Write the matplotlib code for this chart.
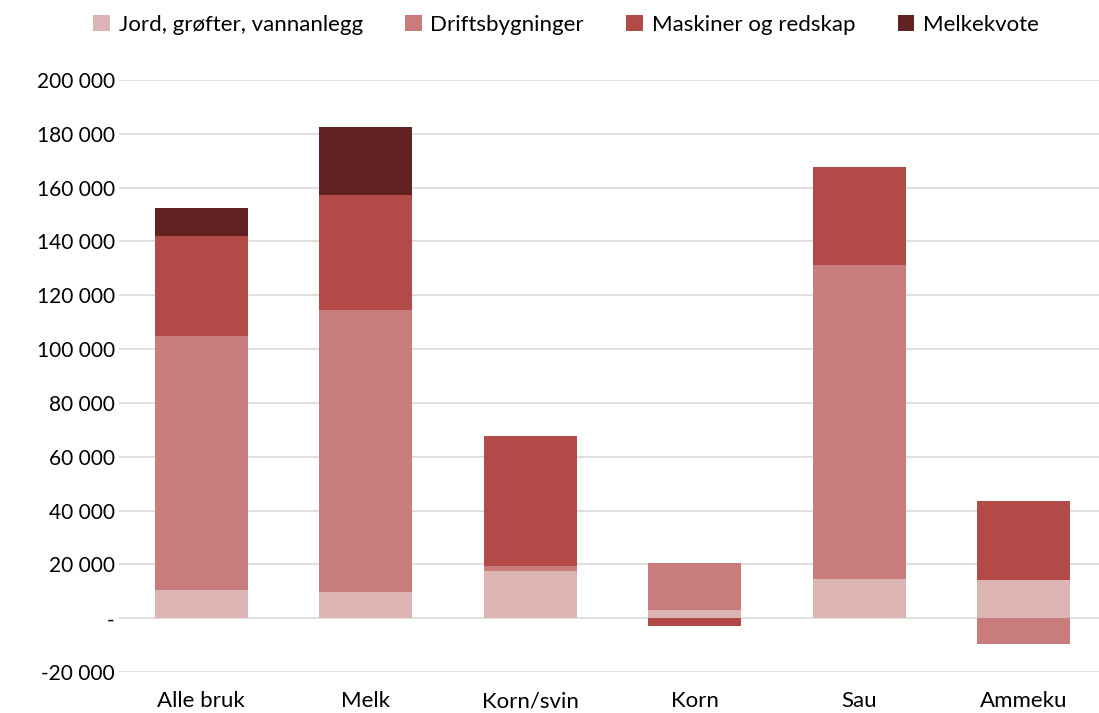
import matplotlib
matplotlib.use("Agg")
import matplotlib.pyplot as plt
import numpy as np
from matplotlib.patches import Patch

categories = ["Alle bruk", "Melk", "Korn/svin", "Korn", "Sau", "Ammeku"]
series_names = ["Jord, grøfter, vannanlegg", "Driftsbygninger", "Maskiner og redskap", "Melkekvote"]
jord = [10400, 9700, 17500, 3000, 14700, 14300]
drifts = [94300, 105000, 2000, 17600, 116700, -9700]
maskiner = [37400, 42600, 48300, -3000, 36400, 29400]
kvote = [10400, 25300, 0, 0, 0, 0]
colors = ["#DDB4B4", "#C87C7C", "#B24A47", "#632222"]

plt.rcParams['font.family'] = ['Lato', 'DejaVu Sans']

fig = plt.figure(figsize=(10.99, 7.13), dpi=100)
ax = fig.add_axes([119/1099, 1 - 672/713, 987/1099, (672 - 80)/713])

x = np.arange(len(categories))
pos_bottom = np.zeros(len(categories))
neg_bottom = np.zeros(len(categories))
for vals, col in zip([jord, drifts, maskiner, kvote], colors):
    v = np.array(vals, dtype=float)
    bottoms = np.where(v >= 0, pos_bottom, neg_bottom)
    ax.bar(x, v, width=0.565, bottom=bottoms, color=col, zorder=3, edgecolor='none')
    pos_bottom = pos_bottom + np.where(v > 0, v, 0)
    neg_bottom = neg_bottom + np.where(v < 0, v, 0)

ax.set_xlim(-0.5, 5.5)
ax.set_ylim(-20000, 200000)
yt = np.arange(-20000, 200001, 20000)
ax.set_yticks(yt)
def fmt(v):
    if v == 0:
        return "-"
    s = f"{abs(v):,}".replace(",", " ")
    return ("-" if v < 0 else "") + s
ax.set_yticklabels([fmt(v) for v in yt])
ax.set_xticks(x)
ax.set_xticklabels(categories)
ax.tick_params(axis='both', length=0, colors='#000000')
ax.tick_params(axis='y', pad=3, labelsize=15)
ax.tick_params(axis='x', pad=14, labelsize=16)
ax.grid(axis='y', color='#D9D9D9', linewidth=1.2, zorder=0)
for s in ax.spines.values():
    s.set_visible(False)

handles = [Patch(facecolor=c, edgecolor='none') for c in colors]
fig.legend(handles, series_names, loc='center', bbox_to_anchor=(0.515, 1 - 25/713),
           ncol=4, frameon=False, fontsize=16, handlelength=0.75, handleheight=0.75,
           columnspacing=1.9, handletextpad=0.4)

fig.savefig("out.png", dpi=100)
